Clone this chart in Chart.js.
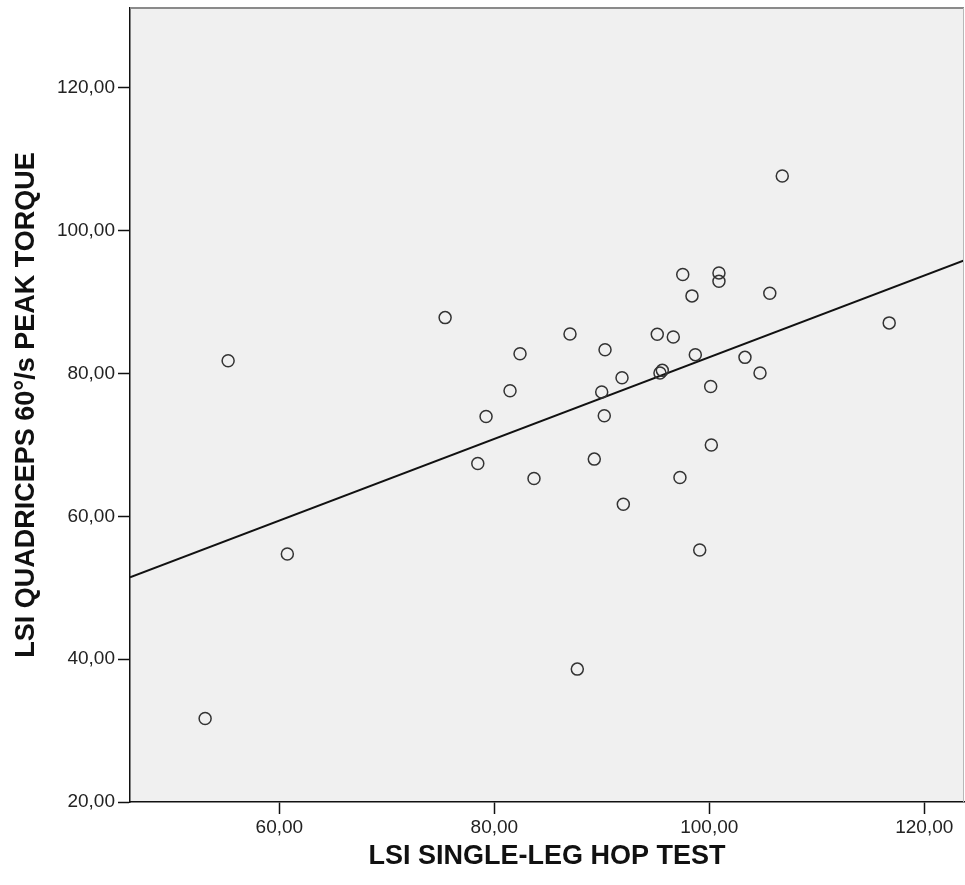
<!DOCTYPE html>
<html>
<head>
<meta charset="utf-8">
<script src="https://cdn.jsdelivr.net/npm/chart.js@4.4.1/dist/chart.umd.min.js"></script>
<style>
html,body{margin:0;padding:0;background:#fff;}
#wrap{width:965px;height:885px;}
</style>
</head>
<body>
<div id="wrap"><canvas id="c" width="965" height="885"></canvas></div>
<script>
// Data
const hopTest = [53.09,55.23,60.74,75.42,78.46,79.23,81.46,82.39,83.69,87.04,87.72,89.30,89.99,90.23,90.30,91.88,92.00,95.16,95.41,95.63,96.65,97.27,97.53,98.39,98.70,99.11,100.13,100.19,100.90,100.90,103.32,104.72,105.63,106.79,116.74];
const quadTorque = [31.70,81.80,54.74,87.84,67.40,74.00,77.60,82.77,65.30,85.55,38.61,68.02,77.42,74.10,83.35,79.42,61.71,85.50,80.08,80.45,85.13,65.44,93.87,90.88,82.65,55.30,78.20,69.99,94.10,92.93,82.27,80.08,91.25,107.66,87.10];
const fitLineX = [46.1, 123.7];
const fitLineY = [51.47, 95.83];
const xTicks = [60, 80, 100, 120];
const yTicks = [20, 40, 60, 80, 100, 120];
const xRange = [46.1, 123.7];
const yRange = [20, 131.2];
const xTitle = 'LSI SINGLE-LEG HOP TEST';
const yTitle = 'LSI QUADRICEPS 60°/s PEAK TORQUE';

const points = hopTest.map((x, i) => ({x: x, y: quadTorque[i]}));
const fitPts = fitLineX.map((x, i) => ({x: x, y: fitLineY[i]}));
const fmt = v => Number(v).toFixed(2).replace('.', ',');

const bgPlugin = {
  id: 'plotBg',
  beforeDraw(chart) {
    const {ctx, chartArea: a} = chart;
    ctx.save();
    ctx.fillStyle = '#f0f0f0';
    ctx.fillRect(a.left, a.top, a.right - a.left, a.bottom - a.top);
    ctx.restore();
  },
  afterDatasetsDraw(chart) {
    const {ctx, chartArea: a} = chart;
    ctx.save();
    ctx.strokeStyle = '#8a8a8a';
    ctx.lineWidth = 2;
    ctx.beginPath();
    ctx.moveTo(a.left, a.top);
    ctx.lineTo(a.right, a.top);
    ctx.stroke();
    ctx.strokeStyle = '#b8b8b8';
    ctx.lineWidth = 1;
    ctx.beginPath();
    ctx.moveTo(a.right - 0.5, a.top);
    ctx.lineTo(a.right - 0.5, a.bottom);
    ctx.stroke();
    ctx.restore();
  }
};

new Chart(document.getElementById('c'), {
  type: 'scatter',
  data: {
    datasets: [
      {
        data: points,
        pointRadius: 6,
        pointBorderWidth: 1.5,
        pointBorderColor: '#333',
        pointBackgroundColor: 'rgba(0,0,0,0)',
        pointHoverRadius: 6
      },
      {
        type: 'line',
        data: fitPts,
        borderColor: '#111',
        borderWidth: 2,
        pointRadius: 0,
        fill: false,
        showLine: true
      }
    ]
  },
  options: {
    responsive: false,
    animation: false,
    devicePixelRatio: 1,
    layout: {autoPadding: false, padding: {top: 8, right: 1, left: 0, bottom: 0}},
    plugins: {legend: {display: false}, tooltip: {enabled: false}},
    scales: {
      x: {
        type: 'linear',
        min: xRange[0], max: xRange[1],
        afterBuildTicks(s) { s.ticks = xTicks.map(v => ({value: v})); },
        afterFit(s) { s.height = 83; s.paddingLeft = 0; s.paddingRight = 0; },
        grid: {drawOnChartArea: false, drawTicks: true, tickLength: 12, tickWidth: 1.5, tickColor: '#111'},
        border: {display: true, color: '#111', width: 1.5},
        ticks: {callback: v => fmt(v), font: {family: 'Liberation Sans, Arial, sans-serif', size: 19}, color: '#222', padding: 2, maxRotation: 0, autoSkip: false},
        title: {display: true, text: xTitle, font: {family: 'Liberation Sans, Arial, sans-serif', size: 27, weight: 'bold'}, color: '#111', padding: {top: 0, bottom: 12}}
      },
      y: {
        type: 'linear',
        min: yRange[0], max: yRange[1],
        afterBuildTicks(s) { s.ticks = yTicks.map(v => ({value: v})); },
        afterFit(s) { s.width = 130; s.paddingTop = 0; s.paddingBottom = 0; },
        grid: {drawOnChartArea: false, drawTicks: true, tickLength: 12, tickWidth: 1.5, tickColor: '#111'},
        border: {display: true, color: '#111', width: 1.5},
        ticks: {callback: v => fmt(v), font: {family: 'Liberation Sans, Arial, sans-serif', size: 19}, color: '#222', padding: 3, autoSkip: false},
        title: {display: true, text: yTitle, font: {family: 'Liberation Sans, Arial, sans-serif', size: 27, weight: 'bold'}, color: '#111', padding: {top: 10, bottom: 0}}
      }
    }
  },
  plugins: [bgPlugin]
});
</script>
</body>
</html>
